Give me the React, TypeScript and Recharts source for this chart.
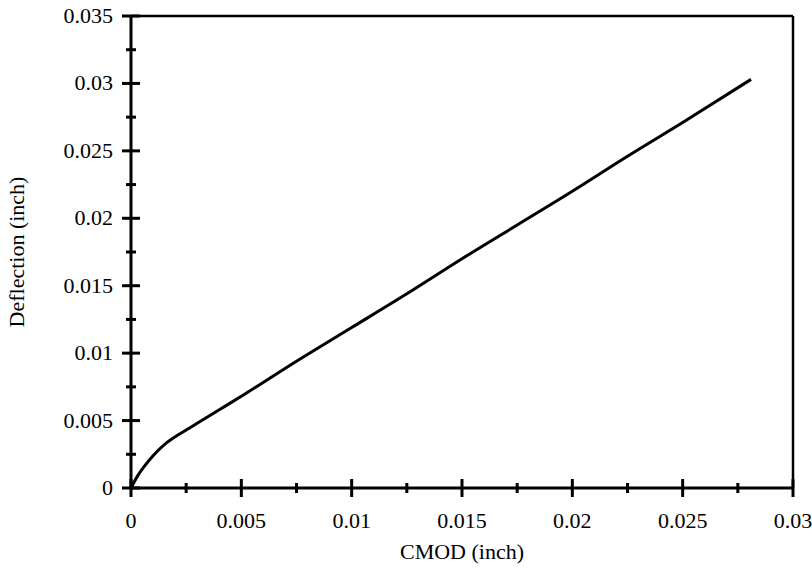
import React from 'react';
import { LineChart, Line, XAxis, YAxis, ReferenceLine, Label } from 'recharts';

const cmod = [0, 0.0003, 0.0006, 0.001, 0.0015, 0.002, 0.0025, 0.003, 0.004, 0.005, 0.0075, 0.01, 0.0125, 0.015, 0.0175, 0.02, 0.0225, 0.025, 0.0281];
const deflection = [0, 0.0009, 0.0016, 0.0024, 0.0032, 0.0038, 0.0043, 0.0048, 0.0058, 0.0068, 0.0094, 0.0119, 0.0144, 0.017, 0.0195, 0.022, 0.0246, 0.0271, 0.0303];

const xTicks = [0, 0.0025, 0.005, 0.0075, 0.01, 0.0125, 0.015, 0.0175, 0.02, 0.0225, 0.025, 0.0275, 0.03];
const yTicks = [0, 0.0025, 0.005, 0.0075, 0.01, 0.0125, 0.015, 0.0175, 0.02, 0.0225, 0.025, 0.0275, 0.03, 0.0325, 0.035];
const xLabels = ['0', '0.005', '0.01', '0.015', '0.02', '0.025', '0.03'];
const yLabels = ['0', '0.005', '0.01', '0.015', '0.02', '0.025', '0.03', '0.035'];

const data = cmod.map((x, i) => ({ cmod: x, deflection: deflection[i] }));

const FONT = '"Liberation Serif", "Times New Roman", serif';

// ticks cross the axis line; every other one is a minor tick without a label
const XTick = (props: any) => {
  const x = Number(props.x);
  const y = Number(props.y);
  const i = xTicks.indexOf(props.payload.value);
  const major = i % 2 === 0;
  const len = major ? 9 : 5;
  return (
    <g>
      <path d={`M${x},${y - len}L${x},${y + len}`} stroke="#000" strokeWidth={3} fill="none" />
      {major && (
        <text x={x} y={y + 40} textAnchor="middle" fontSize={22} style={{ fontFamily: FONT }} fill="#000">
          {xLabels[i / 2]}
        </text>
      )}
    </g>
  );
};

const YTick = (props: any) => {
  const x = Number(props.x);
  const y = Number(props.y);
  const i = yTicks.indexOf(props.payload.value);
  const major = i % 2 === 0;
  const len = major ? 9 : 5;
  return (
    <g>
      <path d={`M${x - len},${y}L${x + len},${y}`} stroke="#000" strokeWidth={3} fill="none" />
      {major && (
        <text x={x - 18} y={y + 7} textAnchor="end" fontSize={22} style={{ fontFamily: FONT }} fill="#000">
          {yLabels[i / 2]}
        </text>
      )}
    </g>
  );
};

export default function App() {
  return (
    <div style={{ position: 'absolute', left: 0, top: 0, background: '#fff' }}>
      <LineChart width={812} height={573} data={data} margin={{ top: 16, right: 19, bottom: 0, left: 0 }}>
        <ReferenceLine y={0.035} stroke="#000" strokeWidth={2.5} />
        <ReferenceLine x={0.03} stroke="#000" strokeWidth={2.5} />
        <XAxis
          dataKey="cmod"
          type="number"
          domain={[0, 0.03]}
          ticks={xTicks}
          interval={0}
          tick={XTick}
          tickLine={false}
          tickSize={0}
          tickMargin={0}
          height={85}
          axisLine={{ stroke: '#000', strokeWidth: 3 }}
        >
          <Label
            content={(p: any) => {
              const vb = p.viewBox;
              return (
                <text x={vb.x + vb.width / 2} y={vb.y + 71} textAnchor="middle" fontSize={22} style={{ fontFamily: FONT }} fill="#000">
                  CMOD (inch)
                </text>
              );
            }}
          />
        </XAxis>
        <YAxis
          type="number"
          domain={[0, 0.035]}
          ticks={yTicks}
          interval={0}
          tick={YTick}
          tickLine={false}
          tickSize={0}
          tickMargin={0}
          width={131}
          axisLine={{ stroke: '#000', strokeWidth: 3 }}
        >
          <Label
            content={(p: any) => {
              const vb = p.viewBox;
              const cx = vb.x + 24;
              const cy = vb.y + vb.height / 2;
              return (
                <text x={cx} y={cy} transform={`rotate(-90, ${cx}, ${cy})`} textAnchor="middle" fontSize={22} style={{ fontFamily: FONT }} fill="#000">
                  Deflection (inch)
                </text>
              );
            }}
          />
        </YAxis>
        <Line
          type="monotone"
          dataKey="deflection"
          stroke="#000"
          strokeWidth={3}
          dot={false}
          isAnimationActive={false}
        />
      </LineChart>
    </div>
  );
}
